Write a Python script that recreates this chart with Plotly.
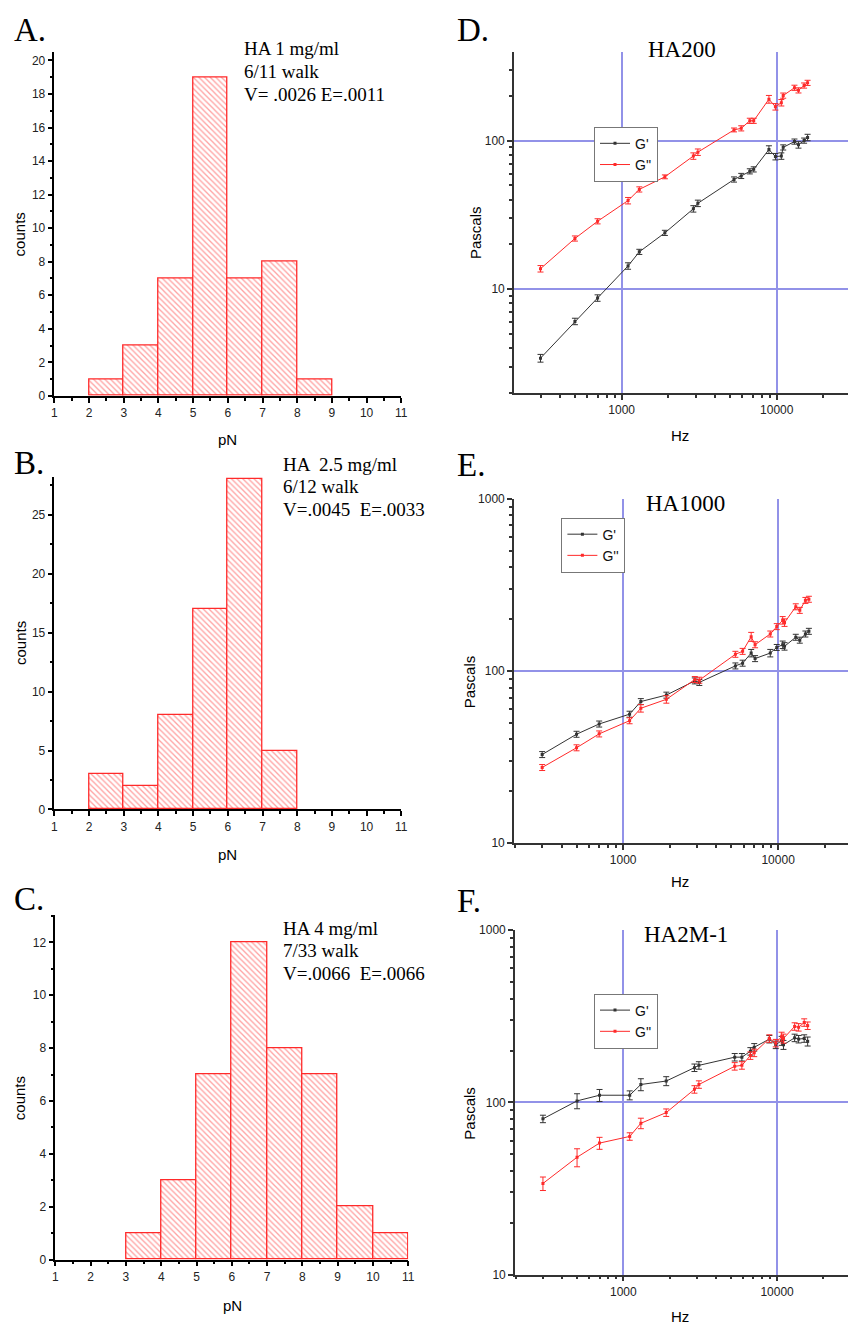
import plotly.graph_objects as go

W, H = 855, 1331

# ---------------- DATA ----------------
bin_edges_left = [1, 2, 3, 4, 5, 6, 7, 8, 9, 10]
counts_A = [0, 1, 3, 7, 19, 7, 8, 1, 0, 0]
counts_B = [0, 3, 2, 8, 17, 28, 5, 0, 0, 0]
counts_C = [0, 0, 1, 3, 7, 12, 8, 7, 2, 1]

text_A = ["HA 1 mg/ml", "6/11 walk", "V= .0026 E=.0011"]
text_B = ["HA  2.5 mg/ml", "6/12 walk", "V=.0045  E=.0033"]
text_C = ["HA 4 mg/ml", "7/33 walk", "V=.0066  E=.0066"]

freq_hz = [300, 500, 700, 1100, 1300, 1900, 2900, 3100, 5300, 5900,
           6700, 7100, 8900, 9800, 10700, 11000, 13000, 13800, 15000, 15800]

D_Gp = [3.42, 6.05, 8.7, 14.3, 17.8, 23.9, 34.7, 37.8, 54.7, 57.8,
        62.1, 64, 87, 78, 78.7, 90, 98.5, 93.6, 100, 105]
D_Gpp = [13.7, 21.9, 28.6, 39.4, 46.9, 57, 78.7, 83.6, 118, 121,
         136, 136, 190, 169, 180, 201, 227, 218, 235, 245]

E_Gp = [32.7, 42.9, 49.2, 56.1, 66.4, 72.4, 87.6, 85.8, 107, 111,
        127, 118, 127, 137, 142, 139, 157, 151, 164, 170]
E_Gpp = [27.5, 35.8, 43.1, 51.4, 60.7, 68.4, 89.2, 88.4, 125, 130,
         158, 142, 164, 181, 197, 191, 236, 225, 257, 261]

F_Gp = [80.2, 102, 110, 110, 127, 133, 159, 164, 183, 183,
        198, 209, 233, 216, 228, 216, 237, 233, 235, 226]
F_Gpp = [33.8, 48, 58, 63.4, 75.6, 87.2, 119, 127, 162, 164,
         187, 194, 235, 221, 241, 235, 276, 273, 291, 279]

# error bars, percent of value
D_Gp_err_pct = [6, 5, 5, 5, 4, 4, 5, 5, 4, 4, 4, 4, 6, 5, 5, 4, 4, 5, 4, 5]
D_Gpp_err_pct = [5, 4, 4, 5, 4, 3, 5, 5, 3, 4, 4, 4, 6, 5, 5, 4, 4, 4, 4, 4]
E_Gp_err_pct = [4, 4, 4, 4, 4, 4, 4, 4, 4, 4, 5, 4, 5, 4, 5, 5, 4, 4, 4, 4]
E_Gpp_err_pct = [4, 4, 4, 4, 5, 5, 4, 4, 4, 4, 6, 4, 4, 4, 5, 5, 4, 4, 4, 4]
F_Gp_err_pct = [5, 10, 8, 6, 8, 6, 5, 5, 5, 5, 5, 5, 5, 5, 6, 6, 5, 5, 5, 6]
F_Gpp_err_pct = [9, 12, 8, 5, 7, 5, 5, 5, 5, 5, 5, 5, 5, 5, 6, 6, 5, 5, 5, 5]

# ---------------- STYLE ----------------
RED = "#ff2a2a"
BLACK_LINE = "#333333"
GRID = "rgb(146,146,232)"
SANS = "Liberation Sans, Arial, sans-serif"
SERIF = "Liberation Serif, Times New Roman, serif"


def px(x):
    return x / W


def py(y):
    return 1 - y / H


fig = go.Figure()

# ---------- histograms ----------
hist_sets = [(counts_A, "x", "y"), (counts_B, "x2", "y2"), (counts_C, "x3", "y3")]
for counts, xa, ya in hist_sets:
    xs = [l + 0.5 for l, c in zip(bin_edges_left, counts) if c > 0]
    ys = [c for c in counts if c > 0]
    fig.add_trace(go.Bar(
        x=xs, y=ys, width=1, xaxis=xa, yaxis=ya, showlegend=False,
        marker=dict(color="white",
                    line=dict(color=RED, width=1.3),
                    pattern=dict(shape="\\", fgcolor="#ff4545", bgcolor="white",
                                 size=4, solidity=0.33)),
    ))

# ---------- rheology ----------
rheo = [
    (D_Gp, D_Gpp, D_Gp_err_pct, D_Gpp_err_pct, "x4", "y4", "legend"),
    (E_Gp, E_Gpp, E_Gp_err_pct, E_Gpp_err_pct, "x5", "y5", "legend2"),
    (F_Gp, F_Gpp, F_Gp_err_pct, F_Gpp_err_pct, "x6", "y6", "legend3"),
]
for gp, gpp, ep, epp, xa, ya, lg in rheo:
    for vals, errp, name, col in [(gp, ep, "G'", BLACK_LINE), (gpp, epp, "G''", RED)]:
        fig.add_trace(go.Scatter(
            x=freq_hz, y=vals, mode="lines+markers", name=name,
            xaxis=xa, yaxis=ya, legend=lg,
            line=dict(color=col, width=1),
            marker=dict(color=col, size=3, symbol="square"),
            error_y=dict(type="data", array=[v * p / 100 for v, p in zip(vals, errp)],
                         color=col, thickness=1, width=3),
        ))

tickfont = dict(family=SANS, size=12, color="#222")

# histogram axes
hist_axes = [
    ("xaxis", "yaxis", (52, 403), (393, 45), 20.53, 2, 1),
    ("xaxis2", "yaxis2", (52, 403), (811, 475), 28.2, 5, 2.5),
    ("xaxis3", "yaxis3", (53, 410), (1266, 918), 13.02, 2, 1),
]
for i, (xk, yk, (x0, x1), (yb, yt), ymax, dt, mdt) in enumerate(hist_axes):
    ya_name = "y" if i == 0 else f"y{i+1}"
    xa_name = "x" if i == 0 else f"x{i+1}"
    fig.layout[xk] = dict(
        domain=[px(x0), px(x1)], anchor=ya_name, range=[1, 11],
        tickmode="linear", tick0=1, dtick=1, ticks="outside", ticklen=5,
        tickwidth=1.5, tickcolor="black",
        minor=dict(ticks="outside", ticklen=3, dtick=0.5, tick0=1, tickcolor="black"),
        showline=True, linecolor="black", linewidth=1.5, showgrid=False,
        zeroline=False, tickfont=tickfont, fixedrange=True,
    )
    fig.layout[yk] = dict(
        domain=[py(yb), py(yt)], anchor=xa_name, range=[0, ymax],
        tickmode="linear", tick0=0, dtick=dt, ticks="outside", ticklen=5,
        tickwidth=1.5, tickcolor="black",
        minor=dict(ticks="outside", ticklen=3, dtick=mdt, tick0=0, tickcolor="black"),
        showline=True, linecolor="black", linewidth=1.5, showgrid=False,
        zeroline=False, tickfont=tickfont,
    )

minor_x = [200, 300, 400, 500, 600, 700, 800, 900, 2000, 3000, 4000, 5000,
           6000, 7000, 8000, 9000, 20000]
minor_y = [m * d for d in [1, 10, 100] for m in [2, 3, 4, 5, 6, 7, 8, 9]]

rheo_axes = [
    ("xaxis4", "yaxis4", "x4", "y4", (517, 855), (390, 45), [2.306, 4.459], [0.3, 2.6], [10, 100]),
    ("xaxis5", "yaxis5", "x5", "y5", (517, 855), (845, 497), [2.295, 4.451], [1, 3], [10, 100, 1000]),
    ("xaxis6", "yaxis6", "x6", "y6", (518, 855), (1281, 933), [2.295, 4.461], [1, 3], [10, 100, 1000]),
]
for xk, yk, xn, yn, (x0, x1), (yb, yt), xr, yr, yticks in rheo_axes:
    fig.layout[xk] = dict(
        type="log", domain=[px(x0), min(px(x1), 1.0)], anchor=yn, range=xr,
        tickmode="array", tickvals=[1000, 10000], ticktext=["1000", "10000"],
        ticks="outside", ticklen=5, tickwidth=1.5, tickcolor="#333",
        minor=dict(ticks="outside", ticklen=3, tickvals=minor_x, tickcolor="#333",
                   showgrid=False),
        showline=True, linecolor="#333", linewidth=1.5,
        showgrid=True, gridcolor=GRID, gridwidth=2,
        zeroline=False, tickfont=tickfont,
    )
    fig.layout[yk] = dict(
        type="log", domain=[py(yb), py(yt)], anchor=xn, range=yr,
        tickmode="array", tickvals=yticks, ticktext=[str(v) for v in yticks],
        ticks="outside", ticklen=5, tickwidth=1.5, tickcolor="#333",
        minor=dict(ticks="outside", ticklen=3, tickvals=minor_y, tickcolor="#333",
                   showgrid=False),
        showline=True, linecolor="#333", linewidth=1.5,
        showgrid=True, gridcolor=GRID, gridwidth=2,
        zeroline=False, tickfont=tickfont,
    )

legend_style = dict(bgcolor="white", bordercolor="#777", borderwidth=1,
                    font=dict(family=SANS, size=14, color="#111"),
                    xanchor="left", yanchor="top", itemwidth=30,
                    tracegroupgap=0)
fig.update_layout(
    legend=dict(x=px(598), y=py(121), **legend_style),
    legend2=dict(x=px(565), y=py(516), **legend_style),
    legend3=dict(x=px(598), y=py(997), **legend_style),
)

annotations = []


def add_text(txt, x, y, size, family, xanchor="center", yanchor="middle", angle=0):
    annotations.append(dict(text=txt, x=px(x), y=py(y), xref="paper", yref="paper",
                            showarrow=False, xanchor=xanchor, yanchor=yanchor,
                            textangle=angle,
                            font=dict(family=family, size=size, color="black")))


# panel letters
for letter, x, y in [("A.", 9, 23), ("B.", 9, 461), ("C.", 9, 901),
                     ("D.", 457, 23), ("E.", 457, 463), ("F.", 457, 904)]:
    add_text(letter, x, y, 33, SERIF, xanchor="left")

# histogram annotation text
for lines, x, ys in [(text_A, 242, [42, 65, 88]), (text_B, 281, [462, 485, 508]),
                     (text_C, 281, [931, 954, 977])]:
    for t, y in zip(lines, ys):
        add_text(t, x, y, 19, SERIF, xanchor="left")

# titles
add_text("HA200", 687, 43, 23, SERIF)
add_text("HA1000", 691, 502, 23, SERIF)
add_text("HA2M-1", 691, 937, 23, SERIF)

# axis titles
for x, y in [(227, 437), (227, 857), (232, 1312)]:
    add_text("pN", x, y, 15, SANS)
for x, y in [(17, 230), (17, 643), (17, 1103)]:
    add_text("counts", x, y, 15, SANS, angle=-90)
for x, y in [(685, 433), (685, 884), (685, 1323)]:
    add_text("Hz", x, y, 15, SANS)
for x, y in [(478, 228), (472, 682), (472, 1118)]:
    add_text("Pascals", x, y, 15, SANS, angle=-90)

fig.update_layout(
    width=W, height=H, autosize=False,
    margin=dict(l=0, r=0, t=0, b=0),
    paper_bgcolor="white", plot_bgcolor="white",
    annotations=annotations, bargap=0,
)

fig.write_html("out.html",
               config={"displayModeBar": False},
               post_script="document.body.style.margin='0';"
                           "document.body.style.overflow='hidden';")
